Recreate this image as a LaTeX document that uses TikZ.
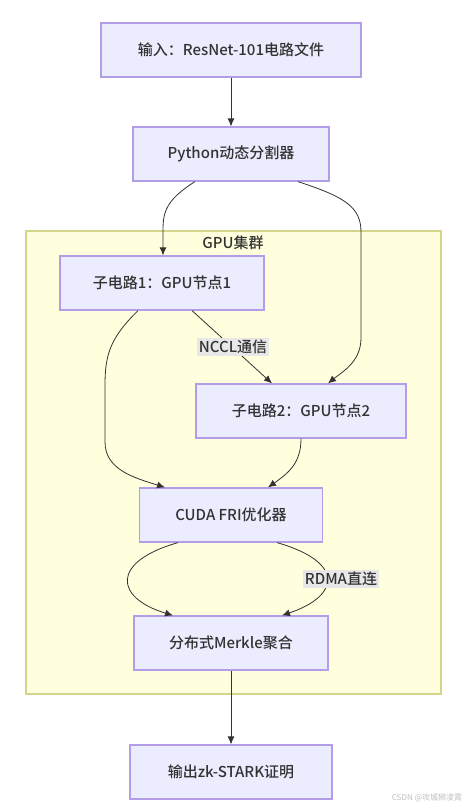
\documentclass[tikz,border=0pt]{standalone}
\usepackage{fontspec}
\setmainfont{Noto Sans CJK SC}[BoldFont={* Medium}]
\usetikzlibrary{calc, positioning, arrows.meta}
\definecolor{boxfill}{HTML}{ECECFF}
\definecolor{boxline}{HTML}{B39DE8}
\definecolor{clusterfill}{HTML}{FFFFDE}
\definecolor{clusterline}{HTML}{D4D48A}
\definecolor{edgecol}{HTML}{333333}
\definecolor{labelbg}{HTML}{E8E8E8}
\begin{document}
\begin{tikzpicture}[x=1pt, y=-1pt, >={Latex[length=8pt,width=7pt]},
  box/.style={draw=boxline, fill=boxfill, line width=1.2pt, minimum height=54pt,
    inner sep=0pt, text=edgecol, font=\fontsize{15}{17}\selectfont\bfseries},
  edge/.style={->, draw=edgecol, line width=0.8pt},
  elabel/.style={fill=labelbg, inner sep=2pt, text=edgecol, font=\fontsize{15}{17}\selectfont\bfseries}]
  \useasboundingbox (0,0) rectangle (474,809);
  % cluster
  \draw [fill=clusterfill, draw=clusterline, line width=1.2pt] (26,231) rectangle (441,694);
  \node (title) at (233,243) [text=edgecol, font=\fontsize{15}{17}\selectfont\bfseries] {GPU集群};
  % nodes
  \node (input) at (231,50) [box, minimum width=260pt] {输入：ResNet-101电路文件};
  \node (split) at (231,154) [box, minimum width=196pt] {Python动态分割器};
  \node (gpuA) at (162,283) [box, minimum width=204pt] {子电路1：GPU节点1};
  \node (gpuB) at (301,411) [box, minimum width=210pt] {子电路2：GPU节点2};
  \node (fri) at (231,515) [box, minimum width=183pt] {CUDA FRI优化器};
  \node (merkle) at (231,643) [box, minimum width=194pt] {分布式Merkle聚合};
  \node (proof) at (231,772) [box, minimum width=202pt] {输出zk-STARK证明};
  % edges
  \draw [edge] (input) -- (split);
  \draw [edge] ([xshift=-36pt]split.south) .. controls (166,200) and (163,212) .. (163,230)
    -- ([xshift=1pt]gpuA.north);
  \draw [edge] ([xshift=67pt]split.south) .. controls (345,197) and (361,207) .. (361,232)
    -- (361,338) .. controls (361,362) and (342,372) .. ([xshift=27pt]gpuB.north);
  \draw [edge] ([xshift=-24pt]gpuA.south) .. controls (110,338) and (105,355) .. (105,385)
    -- (105,442) .. controls (105,470) and (135,478) .. ([xshift=-66pt]fri.north);
  \draw [edge] ([xshift=30pt]gpuA.south) -- ([xshift=-29pt]gpuB.north);
  \draw [edge] (gpuB.south) .. controls (301,462) and (290,472) .. ([xshift=37pt]fri.north);
  \draw [edge] ([xshift=-53pt]fri.south) .. controls (110,562) and (115,598) .. ([xshift=-58pt]merkle.north);
  \draw [edge] ([xshift=46pt]fri.south) .. controls (345,562) and (340,596) .. ([xshift=51pt]merkle.north);
  \draw [edge] (merkle) -- (proof);
  % edge labels
  \node (nccl) at (233,347) [elabel] {NCCL通信};
  \node (rdma) at (341,579) [elabel] {RDMA直连};
  \node (mark) at (427,798) [text=black!25, font=\fontsize{8}{9}\selectfont] {CSDN @攻城狮凌霄};
\end{tikzpicture}
\end{document}
